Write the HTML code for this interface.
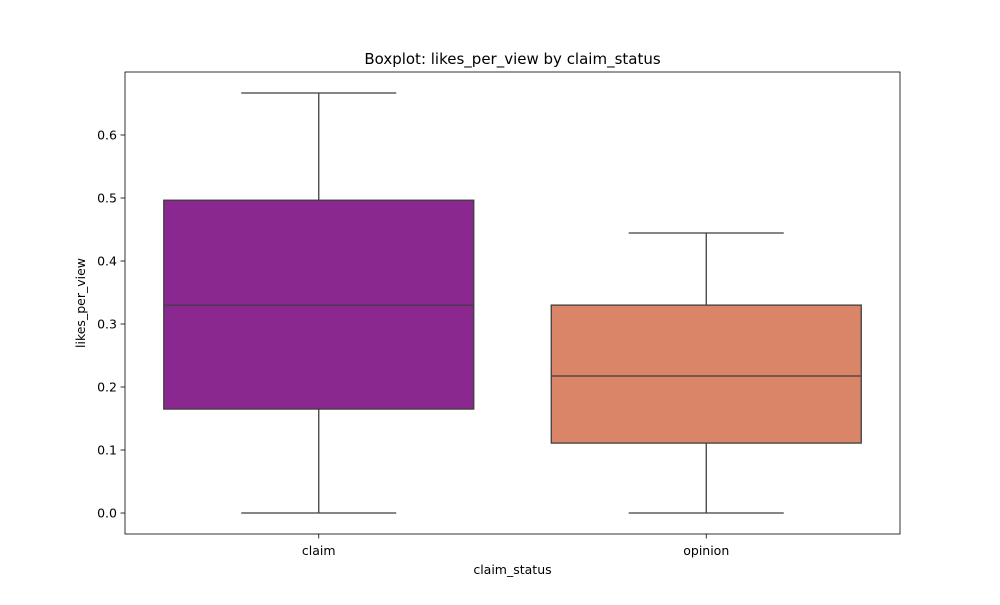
<!DOCTYPE html>
<html><head><meta charset="utf-8"><style>
body{margin:0;background:#fff;font-family:"Liberation Sans","DejaVu Sans",sans-serif;}
</style></head><body>
<svg id="chart" width="1000" height="600" xmlns="http://www.w3.org/2000/svg" font-family="DejaVu Sans, Liberation Sans, sans-serif"></svg>
<script>
const categories = ["claim", "opinion"];
const whiskerLow = [0.0, 0.0];
const q1Values = [0.165, 0.111];
const medianValues = [0.330, 0.2175];
const q3Values = [0.4965, 0.330];
const whiskerHigh = [0.6667, 0.4445];
const boxColors = ["#8a2890", "#da8468"];
const yTicks = [0.0, 0.1, 0.2, 0.3, 0.4, 0.5, 0.6];
const yTickLabels = ["0.0","0.1","0.2","0.3","0.4","0.5","0.6"];

const svg = document.getElementById('chart');
const NS = "http://www.w3.org/2000/svg";
const L=125,R=900,T=72,B=534, ymin=-0.0333, ymax=0.7;
const y = v => B - (v - ymin)/(ymax - ymin)*(B-T);
const x = i => L + (i + 0.5)/categories.length*(R-L);
const bw = (R-L)/categories.length*0.8;
function mk(tag, attrs, parent){const e=document.createElementNS(NS,tag);for(const k in attrs)e.setAttribute(k,attrs[k]);(parent||svg).appendChild(e);return e;}
const lc="#3f3f3f";
categories.forEach((c,i)=>{
  const g=mk('g',{});
  
  
  const cx=x(i);
  mk('line',{x1:cx,x2:cx,y1:y(whiskerLow[i]),y2:y(q1Values[i]),stroke:lc,'stroke-width':1.3},g);
  mk('line',{x1:cx,x2:cx,y1:y(q3Values[i]),y2:y(whiskerHigh[i]),stroke:lc,'stroke-width':1.3},g);
  mk('line',{x1:cx-bw/4,x2:cx+bw/4,y1:y(whiskerLow[i]),y2:y(whiskerLow[i]),stroke:lc,'stroke-width':1.3},g);
  mk('line',{x1:cx-bw/4,x2:cx+bw/4,y1:y(whiskerHigh[i]),y2:y(whiskerHigh[i]),stroke:lc,'stroke-width':1.3},g);
  mk('rect',{x:cx-bw/2,y:y(q3Values[i]),width:bw,height:y(q1Values[i])-y(q3Values[i]),fill:boxColors[i],stroke:lc,'stroke-width':1.3},g);
  mk('line',{x1:cx-bw/2,x2:cx+bw/2,y1:y(medianValues[i]),y2:y(medianValues[i]),stroke:lc,'stroke-width':1.3},g);
  mk('line',{x1:cx,x2:cx,y1:B,y2:B+4.5,stroke:'#000','stroke-width':0.8});
  const t=mk('text',{x:cx,y:B+21,'text-anchor':'middle','font-size':12.5});
  t.textContent=c;
  
  
});
yTicks.forEach((v,i)=>{
  mk('line',{x1:L-4.5,x2:L,y1:y(v),y2:y(v),stroke:'#000','stroke-width':0.8});
  const t=mk('text',{x:L-8,y:y(v)+4.5,'text-anchor':'end','font-size':12.5});
  t.textContent=yTickLabels[i];
  
  
});
const frame=mk('rect',{x:L,y:T,width:R-L,height:B-T,fill:'none',stroke:'#000','stroke-width':0.8});


const title=mk('text',{x:(L+R)/2,y:T-8,'text-anchor':'middle','font-size':15});
title.textContent="Boxplot: likes_per_view by claim_status";


const xl=mk('text',{x:(L+R)/2,y:574,'text-anchor':'middle','font-size':12.5});
xl.textContent="claim_status";


const yl=mk('text',{x:0,y:0,'text-anchor':'middle','font-size':12.5,transform:`translate(85,${(T+B)/2}) rotate(-90)`});
yl.textContent="likes_per_view";


</script>
</body></html>
